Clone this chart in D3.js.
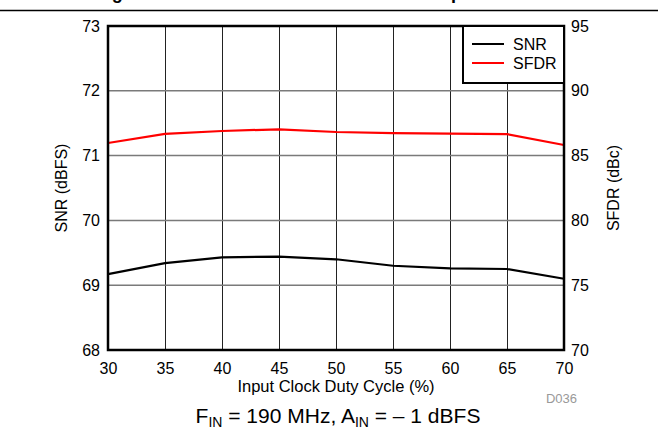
<!DOCTYPE html>
<html>
<head>
<meta charset="utf-8">
<script src="https://cdn.jsdelivr.net/npm/d3@7"></script>
<style>
  html, body { margin: 0; padding: 0; background: #fff; }
  svg { display: block; font-family: Arial, "Liberation Sans", sans-serif; }
</style>
</head>
<body>
<svg id="chart" width="658" height="431"></svg>
<script>
// ---- data ----
const dutyCycle = [30, 35, 40, 45, 50, 55, 60, 65, 70];
const snr  = [69.17, 69.34, 69.43, 69.44, 69.40, 69.30, 69.26, 69.25, 69.10];
const sfdr = [85.97, 86.67, 86.90, 87.03, 86.82, 86.74, 86.70, 86.66, 85.82];
const xTicks = [30, 35, 40, 45, 50, 55, 60, 65, 70];
const snrTicks = [68, 69, 70, 71, 72, 73];
const sfdrTicks = [70, 75, 80, 85, 90, 95];
const seriesNames = ["SNR", "SFDR"];
const seriesColors = ["#000000", "#ff0000"];
const titleText = "Figure 36. Performance vs Input Clock";

// ---- layout ----
const svg = d3.select("#chart");
const m = { left: 108, right: 564, top: 26, bottom: 350 };
const FS = 16;

const x = d3.scaleLinear().domain([30, 70]).range([m.left, m.right]);
const yL = d3.scaleLinear().domain([68, 73]).range([m.bottom, m.top]);
const yR = d3.scaleLinear().domain([70, 95]).range([m.bottom, m.top]);

// cut-off title and rule
svg.append("text")
  .attr("x", 329).attr("y", -1.5)
  .attr("text-anchor", "middle")
  .attr("font-weight", "bold").attr("font-size", 18)
  .attr("letter-spacing", 4.2)
  .text(titleText);
svg.append("line")
  .attr("x1", 0).attr("x2", 658).attr("y1", 10.5).attr("y2", 10.5)
  .attr("stroke", "#000").attr("stroke-width", 1.5);

// gridlines
const g = svg.append("g");
g.selectAll("line.v").data(xTicks.slice(1, -1)).join("line")
  .attr("x1", d => Math.round(x(d)) + 0.5).attr("x2", d => Math.round(x(d)) + 0.5)
  .attr("y1", m.top).attr("y2", m.bottom)
  .attr("stroke", "#222").attr("stroke-width", 1);
g.selectAll("line.h").data(snrTicks.slice(1, -1)).join("line")
  .attr("x1", m.left).attr("x2", m.right)
  .attr("y1", d => yL(d)).attr("y2", d => yL(d))
  .attr("stroke", "#7a7a7a").attr("stroke-width", 1.5);

// axes (labels only)
const axL = d3.axisLeft(yL).tickValues(snrTicks).tickSize(0).tickPadding(8).tickFormat(d3.format("d"));
const axR = d3.axisRight(yR).tickValues(sfdrTicks).tickSize(0).tickPadding(7).tickFormat(d3.format("d"));
const axB = d3.axisBottom(x).tickValues(xTicks).tickSize(0).tickPadding(13).tickFormat(d3.format("d"));

function styleAxis(sel) {
  sel.select(".domain").remove();
  sel.selectAll("text").attr("font-size", FS).attr("fill", "#000")
     .attr("font-family", "Arial, 'Liberation Sans', sans-serif");
}
svg.append("g").attr("transform", `translate(${m.left},0)`).call(axL).call(styleAxis);
svg.append("g").attr("transform", `translate(${m.right},0)`).call(axR).call(styleAxis);
svg.append("g").attr("transform", `translate(0,${m.bottom})`).call(axB).call(styleAxis);

// lines
const lineL = d3.line().x((d, i) => x(dutyCycle[i])).y(d => yL(d));
const lineR = d3.line().x((d, i) => x(dutyCycle[i])).y(d => yR(d));
svg.append("path").datum(snr).attr("d", lineL)
  .attr("fill", "none").attr("stroke", seriesColors[0]).attr("stroke-width", 2.2);
svg.append("path").datum(sfdr).attr("d", lineR)
  .attr("fill", "none").attr("stroke", seriesColors[1]).attr("stroke-width", 2.2);

// frame
svg.append("rect")
  .attr("x", m.left).attr("y", m.top)
  .attr("width", m.right - m.left).attr("height", m.bottom - m.top)
  .attr("fill", "none").attr("stroke", "#000").attr("stroke-width", 2.5);

// legend
const lg = svg.append("g");
lg.append("rect").attr("x", 463).attr("y", m.top).attr("width", m.right - 463).attr("height", 57)
  .attr("fill", "#fff").attr("stroke", "#000").attr("stroke-width", 2);
seriesNames.forEach((name, i) => {
  const yy = 44 + i * 19;
  lg.append("line").attr("x1", 472).attr("x2", 504).attr("y1", yy).attr("y2", yy)
    .attr("stroke", seriesColors[i]).attr("stroke-width", 2);
  lg.append("text").attr("x", 513).attr("y", yy + 6)
    .attr("font-size", FS).attr("fill", "#000").text(name);
});

// axis titles
svg.append("text")
  .attr("transform", `translate(67,${(m.top + m.bottom) / 2}) rotate(-90)`)
  .attr("text-anchor", "middle").attr("font-size", FS).text("SNR (dBFS)");
svg.append("text")
  .attr("transform", `translate(619,${(m.top + m.bottom) / 2}) rotate(-90)`)
  .attr("text-anchor", "middle").attr("font-size", FS).text("SFDR (dBc)");
svg.append("text")
  .attr("x", 336).attr("y", 392)
  .attr("text-anchor", "middle").attr("font-size", 16.5).text("Input Clock Duty Cycle (%)");

// figure id
svg.append("text").attr("x", 577).attr("y", 403)
  .attr("text-anchor", "end").attr("font-size", 13).attr("fill", "#999").text("D036");

// caption
const cap = svg.append("text").attr("x", 338).attr("y", 423)
  .attr("text-anchor", "middle").attr("font-size", 21).attr("fill", "#000");
cap.append("tspan").text("F");
cap.append("tspan").attr("font-size", 14).attr("dy", 4).text("IN");
cap.append("tspan").attr("dy", -4).text(" = 190 MHz, A");
cap.append("tspan").attr("font-size", 14).attr("dy", 4).text("IN");
cap.append("tspan").attr("dy", -4).text(" = \u2013 1 dBFS");
</script>
</body>
</html>
